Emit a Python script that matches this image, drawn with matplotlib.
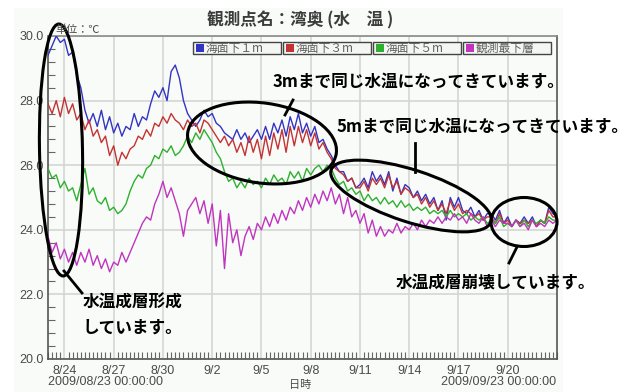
import numpy as np
import matplotlib
matplotlib.use('Agg')
import matplotlib.pyplot as plt
from matplotlib.patches import Ellipse, Rectangle

# ---------------- data (6-hourly samples from 2009/08/23 00:00) ----------------
title = "観測点名：湾奥 (水　温 )"
unit_label = "単位：℃"
xlabel = "日時"
start_label = "2009/08/23 00:00:00"
end_label = "2009/09/23 00:00:00"
tick_days = [1, 4, 7, 10, 13, 16, 19, 22, 25, 28]
tick_labels = ["8/24", "8/27", "8/30", "9/2", "9/5", "9/8", "9/11", "9/14", "9/17", "9/20"]
series_names = ["海面下１m", "海面下３m", "海面下５m", "観測最下層"]
samples_per_day = 4

depth_1m = [
    29.4, 29.7, 30.0, 29.8,  29.9, 29.4, 29.5, 28.8,  28.4, 27.7, 27.3, 27.6,
    27.2, 27.7, 27.1, 27.5,  27.0, 27.3, 26.9, 27.2,  27.1, 27.6, 27.2, 27.5,
    27.4, 27.9, 28.3, 28.1,  28.4, 28.0, 28.9, 29.1,  28.7, 28.0, 27.6, 27.4,
    27.2, 27.4, 27.7, 27.5,  27.6, 27.3, 27.2, 27.0,  26.9, 26.8, 27.1, 26.8,
    27.0, 26.7, 26.9, 27.1,  26.8, 27.2, 26.8, 27.3,  27.0, 27.4, 26.9, 27.5,
    27.1, 27.6, 27.0, 27.3,  26.9, 27.2, 26.7, 26.8,  26.5, 26.3, 26.0, 25.8,
    25.8, 25.5, 25.6, 25.3,  25.4, 25.6, 25.3, 25.8,  25.5, 25.7, 25.4, 25.8,
    25.2, 25.6, 25.1, 25.4,  25.3, 25.0, 25.2, 24.9,  25.1, 24.8, 25.0, 24.6,
    24.9, 24.3, 25.0, 24.7,  25.0, 24.6, 24.5, 24.7,  24.4, 24.6, 24.3, 24.5,
    24.5, 24.3, 24.6, 24.2,  24.4, 24.1, 24.3, 24.2,  24.4, 24.2, 24.4, 24.1,
    24.3, 24.2, 24.7, 24.5,  24.4,
]
depth_3m = [
    27.9, 27.6, 28.0, 27.5,  28.1, 27.6, 27.9, 27.4,  27.6, 27.1, 27.4, 26.9,
    27.1, 26.7, 26.9, 26.3,  26.6, 26.0, 26.4, 26.2,  26.5, 26.6, 26.9, 26.8,
    27.1, 26.9, 27.3, 27.2,  27.5, 27.3, 27.6, 27.4,  27.3, 27.1, 27.4, 27.2,
    27.3, 27.0, 27.4, 27.3,  27.1, 26.9, 26.7, 26.9,  26.6, 26.8, 26.4, 26.7,
    26.3, 26.9, 26.4, 26.8,  26.2, 26.9, 26.3, 27.0,  26.5, 27.1, 26.4, 27.2,
    26.6, 27.2, 26.7, 27.1,  26.6, 27.0, 26.5, 26.7,  26.4, 26.2, 25.9, 25.8,
    25.7, 25.5, 25.6, 25.3,  25.3, 25.5, 25.2, 25.6,  25.4, 25.6, 25.3, 25.7,
    25.3, 25.5, 25.1, 25.3,  25.2, 25.0, 25.1, 24.8,  25.0, 24.7, 24.9, 24.6,
    24.8, 24.5, 24.9, 24.6,  24.8, 24.5, 24.6, 24.5,  24.4, 24.5, 24.3, 24.4,
    24.4, 24.2, 24.5, 24.2,  24.3, 24.1, 24.3, 24.2,  24.3, 24.2, 24.3, 24.1,
    24.3, 24.2, 24.6, 24.4,  24.4,
]
depth_5m = [
    25.9, 25.6, 25.7, 25.3,  25.5, 25.2, 25.3, 24.9,  25.4, 25.9, 25.1, 25.3,
    24.9, 24.8, 25.0, 24.6,  24.7, 24.5, 24.6, 24.8,  25.2, 25.5, 25.7, 25.6,
    25.9, 26.0, 26.3, 26.2,  26.5, 26.4, 26.6, 26.3,  26.4, 26.6, 26.9, 26.7,
    27.0, 26.8, 27.1, 26.9,  26.7, 26.4, 26.2, 25.8,  25.5, 25.6, 25.3, 25.5,
    25.3, 25.6, 25.4, 25.5,  25.3, 25.6, 25.4, 25.7,  25.5, 25.6, 25.4, 25.8,
    25.6, 25.8, 25.5, 25.9,  25.7, 25.9, 26.0, 25.8,  26.0, 25.9, 25.6, 25.4,
    25.5, 25.2, 25.3, 25.1,  25.2, 24.9, 25.1, 24.9,  25.0, 24.8, 25.0, 24.8,
    24.9, 24.7, 24.9, 24.7,  24.8, 24.6, 24.7, 24.6,  24.7, 24.5, 24.6, 24.5,
    24.6, 24.4, 24.6, 24.4,  24.5, 24.4, 24.5, 24.3,  24.4, 24.3, 24.4, 24.2,
    24.3, 24.2, 24.4, 24.1,  24.2, 24.1, 24.3, 24.1,  24.3, 24.1, 24.3, 24.2,
    24.3, 24.2, 24.4, 24.3,  24.3,
]
depth_bottom = [
    23.8, 23.3, 23.6, 23.1,  23.4, 23.0, 23.3, 22.9,  23.3, 23.0, 23.4, 22.9,
    23.2, 22.8, 23.1, 22.7,  23.0, 22.9, 23.3, 23.0,  23.3, 23.6, 23.9, 24.2,
    24.4, 24.3, 24.8, 25.1,  25.5, 25.0, 25.3, 24.9,  24.5, 23.8, 24.6, 24.8,
    25.0, 24.5, 24.9, 24.2,  24.8, 23.5, 24.6, 22.8,  24.5, 23.6, 24.0, 23.2,
    23.8, 24.1, 23.7, 24.2,  24.0, 24.4, 24.1, 24.5,  24.2, 24.6, 24.3, 24.7,
    24.5, 24.9, 24.6, 25.0,  24.7, 25.1, 24.8, 25.2,  24.9, 25.3, 24.8, 25.1,
    24.5, 25.0, 24.4, 24.6,  24.2, 24.5, 23.9, 24.3,  23.8, 24.1, 23.8, 24.0,
    23.9, 24.2, 23.9, 24.1,  24.0, 24.2, 24.0, 24.3,  24.1, 24.3, 24.2, 24.4,
    24.2, 24.4, 24.3, 24.5,  24.3, 24.4, 24.2, 24.5,  24.3, 24.2, 24.4, 24.1,
    24.3, 24.1, 24.3, 24.2,  24.2, 24.1, 24.3, 24.1,  24.2, 24.0, 24.3, 24.1,
    24.2, 24.1, 24.3, 24.2,  24.3,
]
series = [depth_1m, depth_3m, depth_5m, depth_bottom]
colors = ["#3434c4", "#c43232", "#2eb02e", "#c034c0"]

# ---------------- figure ----------------
W, H = 631, 392
fig = plt.figure(figsize=(W / 100, H / 100), dpi=100)
fig.patch.set_facecolor("white")

# chart panel background
bg = fig.add_axes([0, 0, 1, 1], zorder=0)
bg.set_xlim(0, W); bg.set_ylim(H, 0); bg.axis("off")
bg.add_patch(Rectangle((14, 8), 549, 384, facecolor="#f8fbf8", edgecolor="none"))

L, R, T, B = 48, 557, 36, 359
ax = fig.add_axes([L / W, 1 - B / H, (R - L) / W, (B - T) / H], zorder=1)
ax.set_facecolor("#f8fbf8")

num_font = "Liberation Sans"
for vals, c in zip(series, colors):
    t = np.arange(len(vals)) / samples_per_day
    ax.plot(t, vals, color=c, lw=1.0, zorder=3)

ax.set_xlim(0, 31)
ax.set_ylim(20, 30)
ax.set_xticks(tick_days)
ax.set_xticklabels(tick_labels)
ax.set_xticks(np.arange(0, 31.01, 0.25), minor=True)
ax.set_yticks([20, 22, 24, 26, 28, 30])
ax.set_yticklabels([f"{v:.1f}" for v in [20, 22, 24, 26, 28, 30]])
ax.set_yticks(np.arange(20, 30.01, 0.4), minor=True)
ax.grid(True, which="major", color="#d4d6d4", lw=1.2, zorder=1)
ax.tick_params(axis="both", which="both", direction="in", colors="#666666",
               labelcolor="#4a4a4a", labelsize=9)
ax.tick_params(axis="x", which="major", length=0, pad=4)
ax.tick_params(axis="x", which="minor", length=5, width=0.8)
ax.tick_params(axis="y", which="major", length=0, pad=3)
ax.tick_params(axis="y", which="minor", length=5, width=0.8)
for lab in ax.get_xticklabels() + ax.get_yticklabels():
    lab.set_fontfamily(num_font)
for s in ax.spines.values():
    s.set_color("#555555"); s.set_linewidth(1.2)
ax.spines["top"].set_color("#8a8a8a")

# ---------------- overlay (pixel coordinates) ----------------
ov = fig.add_axes([0, 0, 1, 1], zorder=5)
ov.set_xlim(0, W); ov.set_ylim(H, 0); ov.axis("off")
ov.patch.set_alpha(0)

jp = ["Noto Sans CJK JP", "DejaVu Sans"]
ov.text(300, 20, title, fontsize=12, fontweight="bold", color="#3c3c3c",
        family=jp, ha="center", va="center")
ov.text(55, 30, unit_label, fontsize=8, color="#4a4a4a", family=jp,
        ha="left", va="center")
ov.text(L, 382, start_label, fontsize=9, color="#4a4a4a", family=num_font,
        ha="left", va="center")
ov.text(R - 1, 382, end_label, fontsize=9, color="#4a4a4a", family=num_font,
        ha="right", va="center")
ov.text(300, 385, xlabel, fontsize=8, color="#4a4a4a", family=jp,
        ha="center", va="center")

# legend boxes
leg_x = [193, 283, 373, 463]
leg_w = [88, 88, 88, 88]
for x0, w, name, c in zip(leg_x, leg_w, series_names, colors):
    ov.add_patch(Rectangle((x0, 42), w, 12, facecolor="#f4f6f4",
                           edgecolor="#444444", lw=1.0))
    ov.add_patch(Rectangle((x0 + 3, 44), 8, 8, facecolor=c, edgecolor="none"))
    ov.text(x0 + 13, 48.5, name, fontsize=8.5, color="#606060", family=jp,
            ha="left", va="center")

# annotations
ek = dict(facecolor="none", edgecolor="black", lw=2.2)
ov.add_patch(Ellipse((61, 150), 43, 252, angle=-1, **ek))
ov.add_patch(Ellipse((262, 143), 150, 80, angle=8, **ek))
ov.add_patch(Ellipse((411, 196), 168, 52, angle=18, **ek))
ov.add_patch(Ellipse((524, 222), 66, 49, angle=0, **ek))

lk = dict(color="black", lw=2.0)
ov.plot([64, 82], [271, 293], **lk)
ov.plot([285, 293], [115, 100], **lk)
ov.plot([415, 415], [172, 143], **lk)
ov.plot([517, 509], [247, 263], **lk)

tk = dict(fontsize=12, fontweight="bold", color="black", family=jp, va="center")
ov.text(273, 82, "3mまで同じ水温になってきています。", ha="left", **tk)
ov.text(629, 127, "5mまで同じ水温になってきています。", ha="right", **tk)
ov.text(83, 303, "水温成層形成", ha="left", **tk)
ov.text(83, 328, "しています。", ha="left", **tk)
ov.text(396, 283, "水温成層崩壊しています。", ha="left", **tk)

fig.savefig("out.png", dpi=100)
